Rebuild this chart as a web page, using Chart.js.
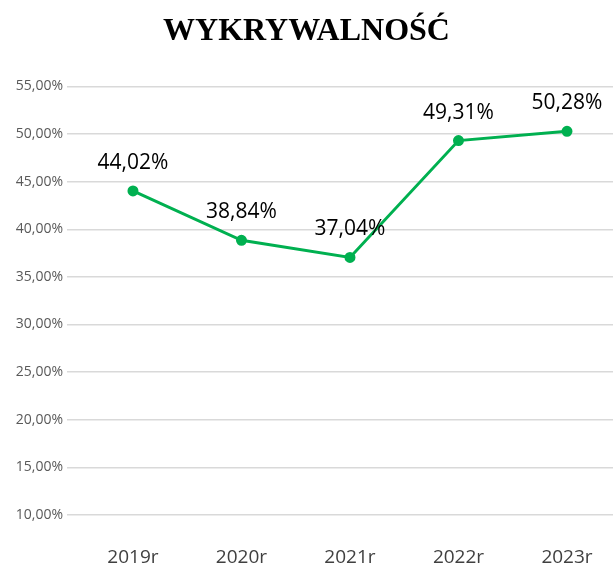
<!DOCTYPE html>
<html>
<head>
<meta charset="utf-8">
<script src="https://cdn.jsdelivr.net/npm/chart.js@4/dist/chart.umd.min.js"></script>
<style>
  body { margin: 0; background: #fff; }
</style>
</head>
<body>
<canvas id="wykres" width="613" height="568"></canvas>
<script>
// dane
const lata = ["2019r", "2020r", "2021r", "2022r", "2023r"];
const wykrywalnosc = [44.02, 38.84, 37.04, 49.31, 50.28];

const fmt = (v) => v.toFixed(2).replace(".", ",") + "%";

// etykiety nad punktami
const etykiety = {
  id: "etykiety",
  afterDatasetsDraw(chart) {
    const ctx = chart.ctx;
    const meta = chart.getDatasetMeta(0);
    ctx.save();
    ctx.font = "21px 'Open Sans'";
    ctx.fillStyle = "#000";
    ctx.textAlign = "center";
    ctx.textBaseline = "middle";
    meta.data.forEach((pt, i) => {
      ctx.fillText(fmt(wykrywalnosc[i]), pt.x, pt.y - 28);
    });
    ctx.restore();
  },
};

new Chart(document.getElementById("wykres").getContext("2d"), {
  type: "line",
  data: {
    datasets: [
      {
        data: wykrywalnosc.map((v, i) => ({ x: i, y: v })),
        borderColor: "#00B050",
        backgroundColor: "#00B050",
        borderWidth: 3,
        pointRadius: 4,
        tension: 0,
      },
    ],
  },
  options: {
    responsive: false,
    animation: false,
    layout: { autoPadding: false },
    plugins: {
      legend: { display: false },
      tooltip: { enabled: false },
      title: {
        display: true,
        text: "WYKRYWALNOŚĆ",
        color: "#000",
        font: { family: "'Liberation Serif'", size: 32, weight: "bold" },
        padding: { top: 13, bottom: 35 },
      },
    },
    scales: {
      x: {
        type: "linear",
        min: -0.608,
        max: 4.424,
        grid: { display: false },
        border: { display: false },
        afterBuildTicks: (scale) => {
          scale.ticks = lata.map((_, i) => ({ value: i }));
        },
        afterFit: (scale) => {
          scale.height = 53;
          scale.paddingLeft = 0;
          scale.paddingRight = 0;
        },
        ticks: {
          color: "#404040",
          font: { family: "'Open Sans'", size: 19 },
          padding: 23,
          maxRotation: 0,
          callback: (v) => lata[v],
        },
      },
      y: {
        min: 10,
        max: 55,
        grid: { color: "#d9d9d9", lineWidth: 1.5, drawTicks: false },
        border: { display: false },
        afterFit: (scale) => {
          scale.width = 67;
          scale.paddingTop = 0;
          scale.paddingBottom = 0;
        },
        ticks: {
          stepSize: 5,
          color: "#595959",
          font: { family: "'Open Sans'", size: 14 },
          padding: 4,
          callback: (v) => fmt(v),
        },
      },
    },
  },
  plugins: [etykiety],
});
</script>
</body>
</html>
